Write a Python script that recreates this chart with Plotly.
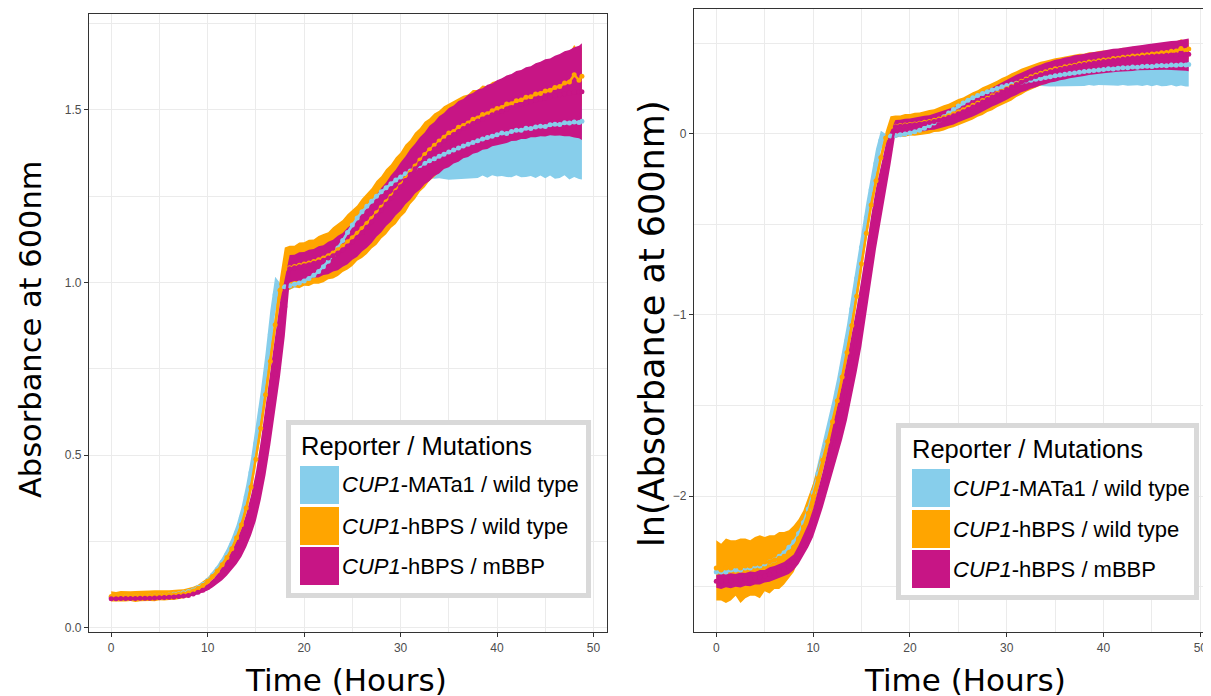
import numpy as np
import plotly.graph_objects as go

# ---------------- data ----------------
TIME = [0.0, 0.5, 1.0, 1.5, 2.0, 2.5, 3.0, 3.5, 4.0, 4.5,
        5.0, 5.5, 6.0, 6.5, 7.0, 7.5, 8.0, 8.5, 9.0, 9.5,
        10.0, 10.5, 11.0, 11.5, 12.0, 12.5, 13.0, 13.5, 14.0, 14.5,
        15.0, 15.5, 16.0, 16.5, 17.0, 17.5, 18.0, 18.5, 19.0, 19.5,
        20.0, 20.5, 21.0, 21.5, 22.0, 22.5, 23.0, 23.5, 24.0, 24.5,
        25.0, 25.5, 26.0, 26.5, 27.0, 27.5, 28.0, 28.5, 29.0, 29.5,
        30.0, 30.5, 31.0, 31.5, 32.0, 32.5, 33.0, 33.5, 34.0, 34.5,
        35.0, 35.5, 36.0, 36.5, 37.0, 37.5, 38.0, 38.5, 39.0, 39.5,
        40.0, 40.5, 41.0, 41.5, 42.0, 42.5, 43.0, 43.5, 44.0, 44.5,
        45.0, 45.5, 46.0, 46.5, 47.0, 47.5, 48.0, 48.5, 48.8]

# CUP1-MATa1 / wild type
MATA1_MEAN = [0.089, 0.089, 0.089, 0.090, 0.090, 0.090, 0.091, 0.091, 0.092, 0.092,
              0.093, 0.094, 0.095, 0.097, 0.099, 0.102, 0.105, 0.110, 0.117, 0.126,
              0.138, 0.153, 0.170, 0.190, 0.213, 0.241, 0.275, 0.320, 0.380, 0.450,
              0.535, 0.630, 0.735, 0.850, 0.965, 0.985, 0.988, 0.991, 0.995, 0.999,
              1.005, 1.012, 1.021, 1.032, 1.046, 1.062, 1.080, 1.100, 1.122, 1.145,
              1.167, 1.187, 1.205, 1.221, 1.236, 1.250, 1.263, 1.275, 1.286, 1.297,
              1.306, 1.315, 1.323, 1.331, 1.339, 1.346, 1.353, 1.359, 1.366, 1.372,
              1.378, 1.384, 1.390, 1.396, 1.401, 1.406, 1.411, 1.416, 1.420, 1.424,
              1.428, 1.433, 1.432, 1.438, 1.441, 1.441, 1.447, 1.446, 1.451, 1.453,
              1.452, 1.457, 1.459, 1.458, 1.463, 1.462, 1.465, 1.464, 1.467]
MATA1_SD = [0.003, 0.002, 0.003, 0.002, 0.003, 0.002, 0.003, 0.002, 0.003, 0.003,
            0.003, 0.003, 0.003, 0.003, 0.003, 0.004, 0.004, 0.004, 0.005, 0.006,
            0.007, 0.009, 0.011, 0.013, 0.016, 0.019, 0.023, 0.028, 0.034, 0.041,
            0.048, 0.054, 0.060, 0.070, 0.052, 0.014, 0.010, 0.012, 0.010, 0.013,
            0.011, 0.012, 0.010, 0.013, 0.012, 0.011, 0.013, 0.012, 0.014, 0.012,
            0.013, 0.012, 0.014, 0.013, 0.012, 0.014, 0.013, 0.014, 0.013, 0.015,
            0.016, 0.019, 0.023, 0.028, 0.034, 0.041, 0.049, 0.058, 0.064, 0.072,
            0.080, 0.086, 0.090, 0.097, 0.099, 0.104, 0.108, 0.106, 0.116, 0.113,
            0.121, 0.124, 0.126, 0.133, 0.130, 0.136, 0.141, 0.137, 0.148, 0.143,
            0.150, 0.147, 0.158, 0.155, 0.152, 0.163, 0.159, 0.164, 0.168]

# CUP1-hBPS / wild type
HBPS_WT_MEAN = [0.091, 0.090, 0.091, 0.091, 0.092, 0.091, 0.092, 0.092, 0.093, 0.093,
                0.094, 0.094, 0.095, 0.096, 0.097, 0.099, 0.102, 0.107, 0.114, 0.123,
                0.135, 0.149, 0.165, 0.183, 0.204, 0.229, 0.261, 0.299, 0.347, 0.408,
                0.488, 0.578, 0.675, 0.772, 0.878, 0.978, 1.040, 1.043, 1.047, 1.050,
                1.054, 1.057, 1.061, 1.066, 1.071, 1.078, 1.086, 1.095, 1.106, 1.118,
                1.130, 1.143, 1.157, 1.171, 1.186, 1.202, 1.218, 1.234, 1.250, 1.266,
                1.283, 1.301, 1.320, 1.338, 1.355, 1.371, 1.385, 1.398, 1.410, 1.421,
                1.433, 1.438, 1.450, 1.455, 1.462, 1.473, 1.477, 1.487, 1.489, 1.498,
                1.504, 1.507, 1.517, 1.518, 1.527, 1.529, 1.537, 1.538, 1.546, 1.548,
                1.555, 1.557, 1.565, 1.568, 1.578, 1.581, 1.602, 1.586, 1.598]
HBPS_WT_SD = [0.015, 0.014, 0.016, 0.015, 0.014, 0.016, 0.015, 0.014, 0.015, 0.016,
              0.014, 0.015, 0.014, 0.015, 0.014, 0.013, 0.013, 0.012, 0.011, 0.011,
              0.010, 0.010, 0.010, 0.010, 0.011, 0.012, 0.013, 0.014, 0.015, 0.017,
              0.019, 0.021, 0.023, 0.025, 0.028, 0.035, 0.062, 0.064, 0.060, 0.066,
              0.063, 0.067, 0.064, 0.069, 0.070, 0.068, 0.074, 0.076, 0.075, 0.080,
              0.082, 0.080, 0.086, 0.088, 0.087, 0.092, 0.090, 0.094, 0.092, 0.096,
              0.094, 0.098, 0.093, 0.096, 0.092, 0.095, 0.090, 0.092, 0.088, 0.090,
              0.086, 0.088, 0.084, 0.086, 0.083, 0.085, 0.081, 0.084, 0.080, 0.083,
              0.081, 0.079, 0.082, 0.080, 0.083, 0.079, 0.082, 0.080, 0.083, 0.081,
              0.084, 0.082, 0.084, 0.082, 0.085, 0.083, 0.086, 0.084, 0.085]

# CUP1-hBPS / mBBP
HBPS_MBBP_MEAN = [0.0845, 0.0845, 0.0848, 0.0848, 0.0850, 0.0852, 0.0855, 0.0857, 0.0860, 0.0865,
                  0.0870, 0.0878, 0.0885, 0.0895, 0.0905, 0.0920, 0.094, 0.098, 0.103, 0.109,
                  0.117, 0.128, 0.141, 0.156, 0.174, 0.195, 0.218, 0.246, 0.282, 0.326,
                  0.380, 0.455, 0.540, 0.636, 0.735, 0.835, 0.930, 1.040, 1.043, 1.046,
                  1.049, 1.052, 1.056, 1.060, 1.065, 1.071, 1.078, 1.086, 1.095, 1.106,
                  1.118, 1.131, 1.145, 1.160, 1.176, 1.193, 1.210, 1.227, 1.244, 1.261,
                  1.278, 1.296, 1.313, 1.330, 1.345, 1.360, 1.374, 1.387, 1.399, 1.410,
                  1.420, 1.429, 1.438, 1.446, 1.454, 1.461, 1.468, 1.474, 1.480, 1.486,
                  1.492, 1.497, 1.502, 1.507, 1.512, 1.516, 1.520, 1.524, 1.528, 1.532,
                  1.535, 1.538, 1.541, 1.544, 1.547, 1.549, 1.551, 1.552, 1.553]
HBPS_MBBP_SD = [0.0030, 0.0035, 0.0030, 0.0035, 0.0030, 0.0035, 0.0030, 0.0035, 0.0030, 0.0035,
                0.0030, 0.0035, 0.0035, 0.0035, 0.0035, 0.0040, 0.0040, 0.005, 0.006, 0.007,
                0.009, 0.011, 0.014, 0.018, 0.022, 0.027, 0.033, 0.040, 0.048, 0.058,
                0.070, 0.085, 0.097, 0.106, 0.110, 0.108, 0.085, 0.040, 0.038, 0.042,
                0.040, 0.043, 0.041, 0.045, 0.043, 0.047, 0.046, 0.050, 0.049, 0.053,
                0.052, 0.056, 0.055, 0.059, 0.061, 0.060, 0.064, 0.063, 0.067, 0.066,
                0.070, 0.069, 0.073, 0.072, 0.076, 0.075, 0.080, 0.078, 0.083, 0.081,
                0.086, 0.084, 0.088, 0.086, 0.090, 0.088, 0.091, 0.089, 0.093, 0.091,
                0.094, 0.095, 0.098, 0.097, 0.101, 0.100, 0.104, 0.103, 0.107, 0.108,
                0.112, 0.111, 0.116, 0.118, 0.123, 0.125, 0.131, 0.134, 0.140]

LEGEND_TITLE = "Reporter / Mutations"
LEGEND_LABELS = ["<i>CUP1</i>-MATa1 / wild type",
                 "<i>CUP1</i>-hBPS / wild type",
                 "<i>CUP1</i>-hBPS / mBBP"]
COLORS = ["#87CEEB", "#FFA500", "#C71585"]
X_TICKS = [0, 10, 20, 30, 40, 50]
Y1_TICKS = [0.0, 0.5, 1.0, 1.5]
Y1_TICKTEXT = ["0.0", "0.5", "1.0", "1.5"]
Y2_TICKS = [-2, -1, 0]
Y2_TICKTEXT = ["\u22122", "\u22121", "0"]

SERIES = [(MATA1_MEAN, MATA1_SD), (HBPS_WT_MEAN, HBPS_WT_SD), (HBPS_MBBP_MEAN, HBPS_MBBP_SD)]

# ---------------- figure ----------------
W, H = 1211, 696
OFF = 8  # page body margin of the browser


def px(x):
    return (x - OFF) / W


def py(y):
    return 1 - (y - OFF) / H


t = np.array(TIME)
fig = go.Figure()

panels = [("x", "y", lambda v: v), ("x2", "y2", np.log)]
for xa, ya, tf in panels:
    # ribbons (mean +/- sd)
    for (mean, sd), col in zip(SERIES, COLORS):
        m = np.array(mean)
        s = np.array(sd)
        hi = tf(m + s)
        lo = tf(m - s)
        fig.add_trace(go.Scatter(
            x=np.concatenate([t, t[::-1]]), y=np.concatenate([hi, lo[::-1]]),
            fill="toself", fillcolor=col, mode="lines", line=dict(width=0, color=col),
            hoverinfo="skip", showlegend=False, xaxis=xa, yaxis=ya))
    # mean points
    for (mean, sd), col in zip(SERIES, COLORS):
        m = np.array(mean)
        fig.add_trace(go.Scatter(
            x=t, y=tf(m), mode="lines+markers",
            line=dict(color=col, width=2.5),
            marker=dict(color=col, size=5, line=dict(width=0)),
            showlegend=False, xaxis=xa, yaxis=ya))

GRID = "#ebebeb"
AXLINE = "#333333"
TICKFONT = dict(family="Liberation Sans, Arial, sans-serif", size=12, color="#4d4d4d")

common_x = dict(tickvals=X_TICKS, ticks="outside", ticklen=4, tickwidth=1, tickcolor=AXLINE,
                showline=True, linecolor=AXLINE, linewidth=1.3, showgrid=True, gridcolor=GRID,
                gridwidth=1.4, zeroline=False, tickfont=TICKFONT, automargin=False,
                minor=dict(tickvals=[5, 15, 25, 35, 45], showgrid=True, gridcolor=GRID,
                           gridwidth=0.8, ticks=""))
common_y = dict(ticks="outside", ticklen=4, tickwidth=1, tickcolor=AXLINE,
                showline=True, linecolor=AXLINE, linewidth=1.3, showgrid=True, gridcolor=GRID,
                gridwidth=1.4, zeroline=False, tickfont=TICKFONT, automargin=False)

fig.update_layout(
    width=W, height=H, template="none",
    margin=dict(l=0, r=0, t=0, b=0, autoexpand=False),
    paper_bgcolor="white", plot_bgcolor="white",
    font=dict(family="Liberation Sans, Arial, sans-serif", color="black"),
    showlegend=False,
    xaxis=dict(domain=[px(89), px(607)], range=[-2.3, 51.4], anchor="y", mirror=True, **common_x),
    yaxis=dict(domain=[py(632), py(14)], range=[-0.012, 1.778], anchor="x", mirror=True,
               tickvals=Y1_TICKS, ticktext=Y1_TICKTEXT,
               minor=dict(tickvals=[0.25, 0.75, 1.25, 1.75], showgrid=True, gridcolor=GRID,
                          gridwidth=0.8, ticks=""), **common_y),
    xaxis2=dict(domain=[px(694), px(1211)], range=[-2.3, 51.1], anchor="y2", mirror=True, **common_x),
    yaxis2=dict(domain=[py(632), py(9)], range=[-2.751, 0.69], anchor="x2", mirror=False,
                tickvals=Y2_TICKS, ticktext=Y2_TICKTEXT,
                minor=dict(tickvals=[-2.5, -1.5, -0.5, 0.5], showgrid=True, gridcolor=GRID,
                           gridwidth=0.8, ticks=""), **common_y),
)

FAM = "DejaVu Sans, Verdana, sans-serif"
annotations = [
    dict(text="Absorbance at 600nm", x=px(30), y=py(329), textangle=-90,
         font=dict(family=FAM, size=30.5, color="black")),
    dict(text="ln(Absorbance at 600nm)", x=px(652), y=py(324), textangle=-90,
         font=dict(family=FAM, size=35, color="black")),
    dict(text="Time (Hours)", x=px(346), y=py(680), font=dict(family=FAM, size=31, color="black")),
    dict(text="Time (Hours)", x=px(965), y=py(680), font=dict(family=FAM, size=31, color="black")),
]
for a in annotations:
    a["xanchor"] = "center"
    a["yanchor"] = "middle"
shapes = []

LEG_TITLE_FONT = dict(family="Liberation Sans, Arial, sans-serif", size=25.5, color="black")
LEG_FONT = dict(family="Liberation Sans, Arial, sans-serif", size=22, color="black")

legends = [
    # box (outer), title pos, key x range, key y ranges, label x
    dict(box=(286, 420, 591, 598), title=(299, 446), kx=(300, 339),
         ky=[(466, 504), (507, 545), (547, 585)], lx=340),
    dict(box=(896, 423, 1199, 600), title=(910, 449), kx=(912, 950),
         ky=[(469, 507), (510, 548), (550, 588)], lx=951),
]
for lg in legends:
    x0, y0, x1, y1 = lg["box"]
    shapes.append(dict(type="rect", xref="paper", yref="paper",
                       x0=px(x0 + 2.5), x1=px(x1 - 2.5), y0=py(y0 + 2.5), y1=py(y1 - 2.5),
                       line=dict(color="#d9d9d9", width=5), fillcolor="white", layer="above"))
    annotations.append(dict(text=LEGEND_TITLE, x=px(lg["title"][0]), y=py(lg["title"][1]),
                            xanchor="left", yanchor="middle", font=LEG_TITLE_FONT))
    for (ya0, ya1), col, lab in zip(lg["ky"], COLORS, LEGEND_LABELS):
        shapes.append(dict(type="rect", xref="paper", yref="paper",
                           x0=px(lg["kx"][0]), x1=px(lg["kx"][1]), y0=py(ya0), y1=py(ya1),
                           line=dict(width=0), fillcolor=col, layer="above"))
        annotations.append(dict(text=lab, x=px(lg["lx"]), y=py((ya0 + ya1) / 2),
                                xanchor="left", yanchor="middle", font=LEG_FONT))

for a in annotations:
    a.setdefault("xref", "paper")
    a.setdefault("yref", "paper")
    a.setdefault("showarrow", False)
fig.update_layout(annotations=annotations, shapes=shapes)

fig.write_html("out.html")
